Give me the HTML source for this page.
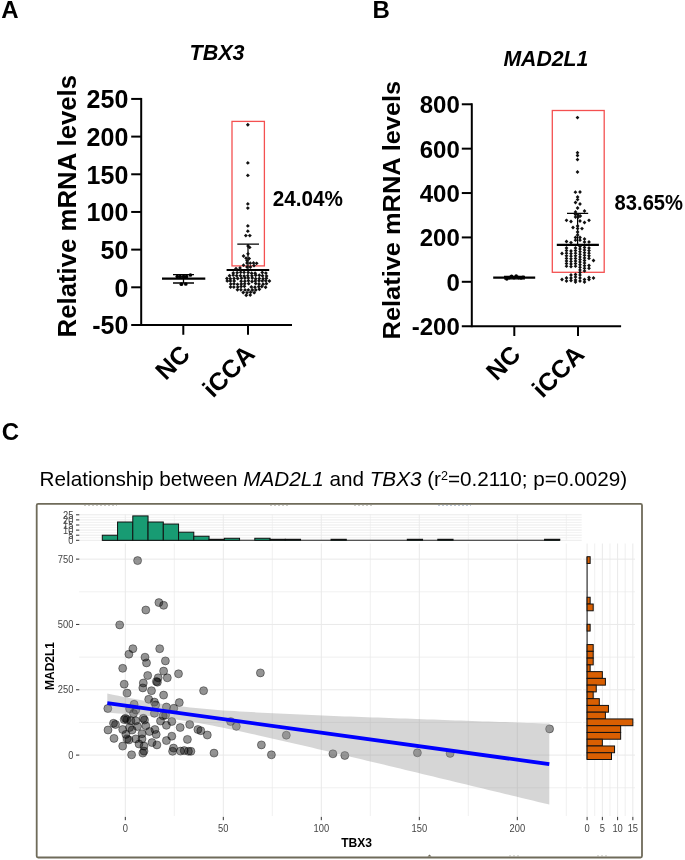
<!DOCTYPE html>
<html><head><meta charset="utf-8"><title>Figure</title>
<style>html,body{margin:0;padding:0;background:#fff}svg{display:block;will-change:transform}</style></head>
<body>
<svg width="685" height="860" viewBox="0 0 685 860">
<rect width="685" height="860" fill="#fff"/>
<text x="1.2" y="18.3" font-family="Liberation Sans, sans-serif" font-weight="bold" font-size="24">A</text>
<text x="189.6" y="60.3" font-family="Liberation Sans, sans-serif" font-weight="bold" font-style="italic" font-size="22" textLength="55" lengthAdjust="spacingAndGlyphs">TBX3</text>
<text transform="translate(76.3,337.4) rotate(-90)" font-family="Liberation Sans, sans-serif" font-weight="bold" font-size="25.5" textLength="262.5" lengthAdjust="spacingAndGlyphs">Relative mRNA levels</text>
<g stroke="#000" stroke-width="2" fill="none">
<path d="M141.2 97.93V325.98"/>
<path d="M131.2 324.98H292"/>
<path d="M131.2 287.30H141.2"/>
<path d="M131.2 249.62H141.2"/>
<path d="M131.2 211.95H141.2"/>
<path d="M131.2 174.28H141.2"/>
<path d="M131.2 136.60H141.2"/>
<path d="M131.2 98.93H141.2"/>
<path d="M183.3 324.98V334.78"/>
<path d="M248 324.98V334.78"/>
</g>
<text x="128.3" y="334.48" text-anchor="end" font-family="Liberation Sans, sans-serif" font-weight="bold" font-size="25">-50</text>
<text x="128.3" y="296.80" text-anchor="end" font-family="Liberation Sans, sans-serif" font-weight="bold" font-size="25">0</text>
<text x="128.3" y="259.12" text-anchor="end" font-family="Liberation Sans, sans-serif" font-weight="bold" font-size="25">50</text>
<text x="128.3" y="221.45" text-anchor="end" font-family="Liberation Sans, sans-serif" font-weight="bold" font-size="25">100</text>
<text x="128.3" y="183.78" text-anchor="end" font-family="Liberation Sans, sans-serif" font-weight="bold" font-size="25">150</text>
<text x="128.3" y="146.10" text-anchor="end" font-family="Liberation Sans, sans-serif" font-weight="bold" font-size="25">200</text>
<text x="128.3" y="108.43" text-anchor="end" font-family="Liberation Sans, sans-serif" font-weight="bold" font-size="25">250</text>
<text transform="translate(191.4,355.8) rotate(-45)" text-anchor="end" font-family="Liberation Sans, sans-serif" font-weight="bold" font-size="25">NC</text>
<text transform="translate(256.3,355.6) rotate(-45)" text-anchor="end" font-family="Liberation Sans, sans-serif" font-weight="bold" font-size="25">iCCA</text>
<text x="272.7" y="206" font-family="Liberation Sans, sans-serif" font-weight="bold" font-size="21.7" textLength="70.2" lengthAdjust="spacingAndGlyphs">24.04%</text>
<text x="372.6" y="18.3" font-family="Liberation Sans, sans-serif" font-weight="bold" font-size="24">B</text>
<text x="503.4" y="65.89999999999999" font-family="Liberation Sans, sans-serif" font-weight="bold" font-style="italic" font-size="21.2" textLength="85" lengthAdjust="spacingAndGlyphs">MAD2L1</text>
<text transform="translate(400.3,339.4) rotate(-90)" font-family="Liberation Sans, sans-serif" font-weight="bold" font-size="24.6" textLength="258.6" lengthAdjust="spacingAndGlyphs">Relative mRNA levels</text>
<g stroke="#000" stroke-width="2" fill="none">
<path d="M471.8 103.28V327.18"/>
<path d="M461.8 326.18H621.1"/>
<path d="M461.8 281.80H471.8"/>
<path d="M461.8 237.42H471.8"/>
<path d="M461.8 193.04H471.8"/>
<path d="M461.8 148.66H471.8"/>
<path d="M461.8 104.28H471.8"/>
<path d="M514.3000000000001 326.18V335.98"/>
<path d="M578.0 326.18V335.98"/>
</g>
<text x="459.8" y="335.18" text-anchor="end" font-family="Liberation Sans, sans-serif" font-weight="bold" font-size="24">-200</text>
<text x="459.8" y="290.80" text-anchor="end" font-family="Liberation Sans, sans-serif" font-weight="bold" font-size="24">0</text>
<text x="459.8" y="246.42" text-anchor="end" font-family="Liberation Sans, sans-serif" font-weight="bold" font-size="24">200</text>
<text x="459.8" y="202.04" text-anchor="end" font-family="Liberation Sans, sans-serif" font-weight="bold" font-size="24">400</text>
<text x="459.8" y="157.66" text-anchor="end" font-family="Liberation Sans, sans-serif" font-weight="bold" font-size="24">600</text>
<text x="459.8" y="113.28" text-anchor="end" font-family="Liberation Sans, sans-serif" font-weight="bold" font-size="24">800</text>
<text transform="translate(522.0,356.1) rotate(-45)" text-anchor="end" font-family="Liberation Sans, sans-serif" font-weight="bold" font-size="25">NC</text>
<text transform="translate(585.7,355.9) rotate(-45)" text-anchor="end" font-family="Liberation Sans, sans-serif" font-weight="bold" font-size="25">iCCA</text>
<text x="614.6" y="209.9" font-family="Liberation Sans, sans-serif" font-weight="bold" font-size="21.7" textLength="68.4" lengthAdjust="spacingAndGlyphs">83.65%</text>
<rect x="232" y="121.4" width="32.4" height="144.5" fill="none" stroke="#f45050" stroke-width="1.3"/>
<g stroke="#000" fill="none"><path d="M162 278.6H205.3" stroke-width="2.2"/><path d="M173 274.6H194M173 283H194M183.5 274.6V283" stroke-width="1.3"/></g>
<circle cx="177.3" cy="276.5" r="1.85" fill="#000"/>
<circle cx="180.2" cy="276.7" r="1.85" fill="#000"/>
<circle cx="183.6" cy="276.5" r="1.85" fill="#000"/>
<circle cx="186.5" cy="276.6" r="1.85" fill="#000"/>
<circle cx="190.4" cy="275" r="1.85" fill="#000"/>
<circle cx="181.4" cy="284.2" r="1.85" fill="#000"/>
<circle cx="185.8" cy="284" r="1.85" fill="#000"/>
<g stroke="#000" fill="none"><path d="M226.6 270H269.2" stroke-width="2.1"/><path d="M237.3 244.2H259M248 244.2V270" stroke-width="1.25"/></g>
<path d="M247.8 122.8L249.8 124.7L247.8 126.7L245.9 124.7Z" fill="#111"/>
<path d="M247.8 161.0L249.8 162.9L247.8 164.8L245.9 162.9Z" fill="#111"/>
<path d="M247.8 173.5L249.8 175.4L247.8 177.3L245.9 175.4Z" fill="#111"/>
<path d="M247.8 202.0L249.8 203.9L247.8 205.8L245.9 203.9Z" fill="#111"/>
<path d="M247.8 206.2L249.8 208.1L247.8 210.0L245.9 208.1Z" fill="#111"/>
<path d="M247.8 224.0L249.8 225.9L247.8 227.8L245.9 225.9Z" fill="#111"/>
<path d="M247.8 229.2L249.8 231.2L247.8 233.1L245.9 231.2Z" fill="#111"/>
<path d="M245.8 233.7L247.8 235.6L245.8 237.5L243.9 235.6Z" fill="#111"/>
<path d="M249.8 233.7L251.8 235.6L249.8 237.5L247.9 235.6Z" fill="#111"/>
<path d="M248.0 244.1L249.9 246.0L248.0 247.9L246.1 246.0Z" fill="#111"/>
<path d="M249.7 245.5L251.6 247.4L249.7 249.3L247.8 247.4Z" fill="#111"/>
<path d="M248.0 251.9L249.9 253.8L248.0 255.8L246.1 253.8Z" fill="#111"/>
<path d="M243.5 254.1L245.4 256.0L243.5 257.9L241.6 256.0Z" fill="#111"/>
<path d="M246.0 256.2L247.9 258.2L246.0 260.1L244.1 258.2Z" fill="#111"/>
<path d="M249.2 256.7L251.1 258.6L249.2 260.6L247.2 258.6Z" fill="#111"/>
<path d="M247.0 258.7L248.9 260.6L247.0 262.6L245.1 260.6Z" fill="#111"/>
<path d="M247.0 261.1L248.9 263.0L247.0 264.9L245.1 263.0Z" fill="#111"/>
<path d="M250.3 261.2L252.2 263.2L250.3 265.1L248.4 263.2Z" fill="#111"/>
<path d="M253.5 261.1L255.4 263.0L253.5 264.9L251.6 263.0Z" fill="#111"/>
<path d="M256.6 261.4L258.6 263.3L256.6 265.2L254.7 263.3Z" fill="#111"/>
<path d="M243.5 263.2L245.4 265.2L243.5 267.1L241.6 265.2Z" fill="#111"/>
<path d="M247.0 265.1L248.9 267.0L247.0 268.9L245.1 267.0Z" fill="#111"/>
<path d="M250.4 265.1L252.3 267.0L250.4 268.9L248.5 267.0Z" fill="#111"/>
<path d="M254.0 263.7L255.9 265.6L254.0 267.6L252.1 265.6Z" fill="#111"/>
<path d="M240.0 266.1L241.9 268.0L240.0 269.9L238.1 268.0Z" fill="#111"/>
<path d="M236.0 266.7L237.9 268.6L236.0 270.6L234.1 268.6Z" fill="#111"/>
<path d="M233.3 271.0L235.2 273.0L233.3 274.9L231.3 273.0Z" fill="#111"/>
<path d="M237.1 270.7L239.1 272.7L237.1 274.6L235.2 272.7Z" fill="#111"/>
<path d="M240.7 270.4L242.7 272.3L240.7 274.3L238.8 272.3Z" fill="#111"/>
<path d="M244.1 270.4L246.0 272.4L244.1 274.3L242.1 272.4Z" fill="#111"/>
<path d="M248.1 270.5L250.1 272.4L248.1 274.4L246.2 272.4Z" fill="#111"/>
<path d="M251.6 271.3L253.6 273.2L251.6 275.2L249.7 273.2Z" fill="#111"/>
<path d="M255.1 271.3L257.1 273.3L255.1 275.2L253.2 273.3Z" fill="#111"/>
<path d="M262.3 270.5L264.2 272.4L262.3 274.4L260.3 272.4Z" fill="#111"/>
<path d="M265.9 271.2L267.8 273.1L265.9 275.1L263.9 273.1Z" fill="#111"/>
<path d="M229.5 273.8L231.5 275.7L229.5 277.7L227.6 275.7Z" fill="#111"/>
<path d="M233.2 273.2L235.2 275.2L233.2 277.1L231.3 275.2Z" fill="#111"/>
<path d="M236.7 273.8L238.7 275.8L236.7 277.7L234.8 275.8Z" fill="#111"/>
<path d="M240.5 273.7L242.4 275.7L240.5 277.6L238.5 275.7Z" fill="#111"/>
<path d="M244.2 273.9L246.1 275.9L244.2 277.8L242.2 275.9Z" fill="#111"/>
<path d="M247.8 273.7L249.8 275.7L247.8 277.6L245.9 275.7Z" fill="#111"/>
<path d="M251.9 273.9L253.9 275.8L251.9 277.8L250.0 275.8Z" fill="#111"/>
<path d="M255.7 273.3L257.6 275.2L255.7 277.2L253.7 275.2Z" fill="#111"/>
<path d="M259.3 273.3L261.2 275.3L259.3 277.2L257.3 275.3Z" fill="#111"/>
<path d="M262.5 273.8L264.5 275.8L262.5 277.7L260.6 275.8Z" fill="#111"/>
<path d="M266.5 274.0L268.5 276.0L266.5 277.9L264.6 276.0Z" fill="#111"/>
<path d="M226.9 276.5L228.9 278.5L226.9 280.4L225.0 278.5Z" fill="#111"/>
<path d="M230.4 276.8L232.3 278.7L230.4 280.7L228.4 278.7Z" fill="#111"/>
<path d="M234.0 276.6L236.0 278.6L234.0 280.5L232.1 278.6Z" fill="#111"/>
<path d="M237.7 276.6L239.7 278.5L237.7 280.5L235.8 278.5Z" fill="#111"/>
<path d="M241.4 276.2L243.4 278.2L241.4 280.1L239.5 278.2Z" fill="#111"/>
<path d="M244.9 276.0L246.9 277.9L244.9 279.9L243.0 277.9Z" fill="#111"/>
<path d="M248.3 276.1L250.2 278.0L248.3 280.0L246.3 278.0Z" fill="#111"/>
<path d="M252.2 276.1L254.2 278.0L252.2 280.0L250.3 278.0Z" fill="#111"/>
<path d="M255.6 276.8L257.6 278.8L255.6 280.7L253.7 278.8Z" fill="#111"/>
<path d="M259.3 276.5L261.2 278.4L259.3 280.4L257.3 278.4Z" fill="#111"/>
<path d="M263.1 276.8L265.0 278.8L263.1 280.7L261.1 278.8Z" fill="#111"/>
<path d="M266.4 276.3L268.4 278.3L266.4 280.2L264.5 278.3Z" fill="#111"/>
<path d="M227.3 278.9L229.2 280.9L227.3 282.8L225.3 280.9Z" fill="#111"/>
<path d="M230.4 279.0L232.3 280.9L230.4 282.9L228.4 280.9Z" fill="#111"/>
<path d="M234.2 279.0L236.1 281.0L234.2 282.9L232.2 281.0Z" fill="#111"/>
<path d="M241.1 279.3L243.1 281.3L241.1 283.2L239.2 281.3Z" fill="#111"/>
<path d="M244.9 279.3L246.8 281.2L244.9 283.2L242.9 281.2Z" fill="#111"/>
<path d="M248.4 278.8L250.4 280.8L248.4 282.7L246.5 280.8Z" fill="#111"/>
<path d="M252.0 279.6L254.0 281.6L252.0 283.5L250.1 281.6Z" fill="#111"/>
<path d="M255.3 279.1L257.3 281.1L255.3 283.0L253.4 281.1Z" fill="#111"/>
<path d="M259.0 278.8L261.0 280.8L259.0 282.7L257.1 280.8Z" fill="#111"/>
<path d="M262.3 278.9L264.3 280.9L262.3 282.8L260.4 280.9Z" fill="#111"/>
<path d="M265.8 278.8L267.7 280.7L265.8 282.7L263.8 280.7Z" fill="#111"/>
<path d="M269.4 279.1L271.3 281.1L269.4 283.0L267.4 281.1Z" fill="#111"/>
<path d="M230.7 282.2L232.7 284.1L230.7 286.1L228.8 284.1Z" fill="#111"/>
<path d="M234.0 281.9L235.9 283.8L234.0 285.8L232.0 283.8Z" fill="#111"/>
<path d="M237.5 282.4L239.4 284.3L237.5 286.3L235.5 284.3Z" fill="#111"/>
<path d="M241.3 282.0L243.2 284.0L241.3 285.9L239.3 284.0Z" fill="#111"/>
<path d="M244.7 281.9L246.6 283.8L244.7 285.8L242.7 283.8Z" fill="#111"/>
<path d="M248.7 281.7L250.6 283.7L248.7 285.6L246.7 283.7Z" fill="#111"/>
<path d="M255.7 281.7L257.7 283.6L255.7 285.6L253.8 283.6Z" fill="#111"/>
<path d="M259.0 282.1L261.0 284.0L259.0 286.0L257.1 284.0Z" fill="#111"/>
<path d="M263.1 282.2L265.1 284.2L263.1 286.1L261.2 284.2Z" fill="#111"/>
<path d="M266.4 281.7L268.4 283.7L266.4 285.6L264.5 283.7Z" fill="#111"/>
<path d="M230.5 285.1L232.5 287.1L230.5 289.0L228.6 287.1Z" fill="#111"/>
<path d="M233.8 285.2L235.8 287.1L233.8 289.1L231.9 287.1Z" fill="#111"/>
<path d="M237.7 285.2L239.7 287.1L237.7 289.1L235.8 287.1Z" fill="#111"/>
<path d="M241.1 284.6L243.1 286.5L241.1 288.5L239.2 286.5Z" fill="#111"/>
<path d="M244.4 284.4L246.4 286.3L244.4 288.3L242.5 286.3Z" fill="#111"/>
<path d="M251.4 285.0L253.3 287.0L251.4 288.9L249.4 287.0Z" fill="#111"/>
<path d="M255.0 285.3L256.9 287.2L255.0 289.2L253.0 287.2Z" fill="#111"/>
<path d="M258.8 284.7L260.7 286.7L258.8 288.6L256.8 286.7Z" fill="#111"/>
<path d="M261.8 284.5L263.8 286.5L261.8 288.4L259.9 286.5Z" fill="#111"/>
<path d="M265.6 285.3L267.5 287.2L265.6 289.2L263.6 287.2Z" fill="#111"/>
<path d="M237.5 287.8L239.4 289.8L237.5 291.7L235.5 289.8Z" fill="#111"/>
<path d="M240.9 287.8L242.9 289.8L240.9 291.7L239.0 289.8Z" fill="#111"/>
<path d="M245.0 287.9L247.0 289.9L245.0 291.8L243.1 289.9Z" fill="#111"/>
<path d="M248.3 287.9L250.3 289.9L248.3 291.8L246.4 289.9Z" fill="#111"/>
<path d="M252.3 288.1L254.3 290.1L252.3 292.0L250.4 290.1Z" fill="#111"/>
<path d="M255.8 288.1L257.7 290.0L255.8 292.0L253.8 290.0Z" fill="#111"/>
<path d="M259.3 287.3L261.3 289.2L259.3 291.2L257.4 289.2Z" fill="#111"/>
<path d="M243.2 290.6L245.2 292.5L243.2 294.5L241.3 292.5Z" fill="#111"/>
<path d="M247.0 290.7L249.0 292.7L247.0 294.6L245.1 292.7Z" fill="#111"/>
<path d="M250.6 290.3L252.5 292.2L250.6 294.2L248.6 292.2Z" fill="#111"/>
<path d="M254.2 290.7L256.2 292.7L254.2 294.6L252.3 292.7Z" fill="#111"/>
<path d="M246.2 293.3L248.2 295.2L246.2 297.2L244.3 295.2Z" fill="#111"/>
<path d="M250.2 293.2L252.2 295.1L250.2 297.1L248.3 295.1Z" fill="#111"/>
<rect x="552.3" y="110.5" width="51.9" height="161.8" fill="none" stroke="#f45050" stroke-width="1.3"/>
<g stroke="#000" fill="none"><path d="M493.2 277.6H535.2" stroke-width="2.2"/><path d="M504 276.4H525M504 278.9H525" stroke-width="1.2"/></g>
<circle cx="506.8" cy="279" r="1.8" fill="#000"/>
<circle cx="509.5" cy="277.6" r="1.8" fill="#000"/>
<circle cx="511.6" cy="276.2" r="1.8" fill="#000"/>
<circle cx="514" cy="277.8" r="1.8" fill="#000"/>
<circle cx="516.2" cy="276" r="1.8" fill="#000"/>
<circle cx="518.6" cy="277.6" r="1.8" fill="#000"/>
<circle cx="521" cy="278" r="1.8" fill="#000"/>
<circle cx="523" cy="277.4" r="1.8" fill="#000"/>
<g stroke="#000" fill="none"><path d="M556.8 244.9H598.9" stroke-width="2.1"/><path d="M567 213.3H588.2M577.6 213.3V245" stroke-width="1.25"/></g>
<path d="M577.5 115.7L579.4 117.6L577.5 119.5L575.6 117.6Z" fill="#111"/>
<path d="M577.5 150.8L579.4 152.7L577.5 154.6L575.6 152.7Z" fill="#111"/>
<path d="M577.5 153.6L579.4 155.5L577.5 157.4L575.6 155.5Z" fill="#111"/>
<path d="M577.5 157.7L579.4 159.6L577.5 161.5L575.6 159.6Z" fill="#111"/>
<path d="M577.5 170.1L579.4 172.0L577.5 173.9L575.6 172.0Z" fill="#111"/>
<path d="M575.4 190.3L577.3 192.2L575.4 194.1L573.5 192.2Z" fill="#111"/>
<path d="M580.0 190.1L581.9 192.0L580.0 193.9L578.1 192.0Z" fill="#111"/>
<path d="M577.6 195.1L579.5 197.0L577.6 198.9L575.7 197.0Z" fill="#111"/>
<path d="M577.6 197.7L579.5 199.6L577.6 201.5L575.7 199.6Z" fill="#111"/>
<path d="M575.5 200.6L577.4 202.5L575.5 204.4L573.6 202.5Z" fill="#111"/>
<path d="M580.0 202.1L581.9 204.0L580.0 205.9L578.1 204.0Z" fill="#111"/>
<path d="M577.6 206.1L579.5 208.0L577.6 209.9L575.7 208.0Z" fill="#111"/>
<path d="M584.5 209.1L586.4 211.0L584.5 212.9L582.6 211.0Z" fill="#111"/>
<path d="M575.5 210.1L577.4 212.0L575.5 213.9L573.6 212.0Z" fill="#111"/>
<path d="M575.5 212.6L577.4 214.5L575.5 216.4L573.6 214.5Z" fill="#111"/>
<path d="M578.0 212.9L579.9 214.8L578.0 216.7L576.1 214.8Z" fill="#111"/>
<path d="M575.5 215.1L577.4 217.0L575.5 218.9L573.6 217.0Z" fill="#111"/>
<path d="M578.2 215.3L580.1 217.2L578.2 219.1L576.3 217.2Z" fill="#111"/>
<path d="M580.3 214.1L582.2 216.0L580.3 217.9L578.4 216.0Z" fill="#111"/>
<path d="M566.5 218.4L568.4 220.3L566.5 222.2L564.6 220.3Z" fill="#111"/>
<path d="M571.0 219.6L572.9 221.5L571.0 223.4L569.1 221.5Z" fill="#111"/>
<path d="M580.0 219.1L581.9 221.0L580.0 222.9L578.1 221.0Z" fill="#111"/>
<path d="M584.5 220.6L586.4 222.5L584.5 224.4L582.6 222.5Z" fill="#111"/>
<path d="M589.0 218.4L590.9 220.3L589.0 222.2L587.1 220.3Z" fill="#111"/>
<path d="M573.0 225.6L574.9 227.5L573.0 229.4L571.1 227.5Z" fill="#111"/>
<path d="M577.6 224.1L579.5 226.0L577.6 227.9L575.7 226.0Z" fill="#111"/>
<path d="M577.6 226.7L579.5 228.6L577.6 230.5L575.7 228.6Z" fill="#111"/>
<path d="M582.0 226.7L583.9 228.6L582.0 230.5L580.1 228.6Z" fill="#111"/>
<path d="M577.6 230.1L579.5 232.0L577.6 233.9L575.7 232.0Z" fill="#111"/>
<path d="M577.6 233.1L579.5 235.0L577.6 236.9L575.7 235.0Z" fill="#111"/>
<path d="M575.5 235.6L577.4 237.5L575.5 239.4L573.6 237.5Z" fill="#111"/>
<path d="M580.0 235.6L581.9 237.5L580.0 239.4L578.1 237.5Z" fill="#111"/>
<path d="M575.5 238.3L577.4 240.2L575.5 242.1L573.6 240.2Z" fill="#111"/>
<path d="M580.0 238.3L581.9 240.2L580.0 242.1L578.1 240.2Z" fill="#111"/>
<path d="M584.5 237.1L586.4 239.0L584.5 240.9L582.6 239.0Z" fill="#111"/>
<path d="M584.5 240.1L586.4 242.0L584.5 243.9L582.6 242.0Z" fill="#111"/>
<path d="M566.5 239.6L568.4 241.5L566.5 243.4L564.6 241.5Z" fill="#111"/>
<path d="M571.0 240.7L572.9 242.6L571.0 244.5L569.1 242.6Z" fill="#111"/>
<path d="M589.0 240.1L590.9 242.0L589.0 243.9L587.1 242.0Z" fill="#111"/>
<path d="M562.0 251.6L563.9 253.5L562.0 255.4L560.1 253.5Z" fill="#111"/>
<path d="M593.5 258.6L595.4 260.5L593.5 262.4L591.6 260.5Z" fill="#111"/>
<path d="M566.5 246.1L568.4 248.0L566.5 249.9L564.6 248.0Z" fill="#111"/>
<path d="M566.5 248.7L568.4 250.6L566.5 252.5L564.6 250.6Z" fill="#111"/>
<path d="M566.5 251.3L568.4 253.2L566.5 255.1L564.6 253.2Z" fill="#111"/>
<path d="M566.5 253.9L568.4 255.8L566.5 257.7L564.6 255.8Z" fill="#111"/>
<path d="M566.5 256.5L568.4 258.4L566.5 260.3L564.6 258.4Z" fill="#111"/>
<path d="M566.5 259.1L568.4 261.0L566.5 262.9L564.6 261.0Z" fill="#111"/>
<path d="M566.5 261.7L568.4 263.6L566.5 265.5L564.6 263.6Z" fill="#111"/>
<path d="M566.5 264.3L568.4 266.2L566.5 268.1L564.6 266.2Z" fill="#111"/>
<path d="M571.0 249.1L572.9 251.0L571.0 252.9L569.1 251.0Z" fill="#111"/>
<path d="M571.0 251.7L572.9 253.6L571.0 255.5L569.1 253.6Z" fill="#111"/>
<path d="M571.0 254.3L572.9 256.2L571.0 258.1L569.1 256.2Z" fill="#111"/>
<path d="M571.0 256.9L572.9 258.8L571.0 260.7L569.1 258.8Z" fill="#111"/>
<path d="M571.0 259.5L572.9 261.4L571.0 263.3L569.1 261.4Z" fill="#111"/>
<path d="M571.0 262.1L572.9 264.0L571.0 265.9L569.1 264.0Z" fill="#111"/>
<path d="M571.0 264.7L572.9 266.6L571.0 268.5L569.1 266.6Z" fill="#111"/>
<path d="M575.5 246.1L577.4 248.0L575.5 249.9L573.6 248.0Z" fill="#111"/>
<path d="M575.5 248.7L577.4 250.6L575.5 252.5L573.6 250.6Z" fill="#111"/>
<path d="M575.5 251.3L577.4 253.2L575.5 255.1L573.6 253.2Z" fill="#111"/>
<path d="M575.5 253.9L577.4 255.8L575.5 257.7L573.6 255.8Z" fill="#111"/>
<path d="M575.5 256.5L577.4 258.4L575.5 260.3L573.6 258.4Z" fill="#111"/>
<path d="M575.5 259.1L577.4 261.0L575.5 262.9L573.6 261.0Z" fill="#111"/>
<path d="M575.5 261.7L577.4 263.6L575.5 265.5L573.6 263.6Z" fill="#111"/>
<path d="M575.5 264.3L577.4 266.2L575.5 268.1L573.6 266.2Z" fill="#111"/>
<path d="M580.0 244.6L581.9 246.5L580.0 248.4L578.1 246.5Z" fill="#111"/>
<path d="M580.0 247.2L581.9 249.1L580.0 251.0L578.1 249.1Z" fill="#111"/>
<path d="M580.0 249.8L581.9 251.7L580.0 253.6L578.1 251.7Z" fill="#111"/>
<path d="M580.0 252.4L581.9 254.3L580.0 256.2L578.1 254.3Z" fill="#111"/>
<path d="M580.0 255.0L581.9 256.9L580.0 258.8L578.1 256.9Z" fill="#111"/>
<path d="M580.0 257.6L581.9 259.5L580.0 261.4L578.1 259.5Z" fill="#111"/>
<path d="M580.0 260.2L581.9 262.1L580.0 264.0L578.1 262.1Z" fill="#111"/>
<path d="M580.0 262.8L581.9 264.7L580.0 266.6L578.1 264.7Z" fill="#111"/>
<path d="M580.0 265.4L581.9 267.3L580.0 269.2L578.1 267.3Z" fill="#111"/>
<path d="M580.0 268.0L581.9 269.9L580.0 271.8L578.1 269.9Z" fill="#111"/>
<path d="M580.0 270.6L581.9 272.5L580.0 274.4L578.1 272.5Z" fill="#111"/>
<path d="M580.0 273.2L581.9 275.1L580.0 277.0L578.1 275.1Z" fill="#111"/>
<path d="M584.5 245.6L586.4 247.5L584.5 249.4L582.6 247.5Z" fill="#111"/>
<path d="M584.5 248.2L586.4 250.1L584.5 252.0L582.6 250.1Z" fill="#111"/>
<path d="M584.5 250.8L586.4 252.7L584.5 254.6L582.6 252.7Z" fill="#111"/>
<path d="M584.5 253.4L586.4 255.3L584.5 257.2L582.6 255.3Z" fill="#111"/>
<path d="M584.5 256.0L586.4 257.9L584.5 259.8L582.6 257.9Z" fill="#111"/>
<path d="M584.5 258.6L586.4 260.5L584.5 262.4L582.6 260.5Z" fill="#111"/>
<path d="M584.5 261.2L586.4 263.1L584.5 265.0L582.6 263.1Z" fill="#111"/>
<path d="M584.5 263.8L586.4 265.7L584.5 267.6L582.6 265.7Z" fill="#111"/>
<path d="M584.5 266.4L586.4 268.3L584.5 270.2L582.6 268.3Z" fill="#111"/>
<path d="M584.5 269.0L586.4 270.9L584.5 272.8L582.6 270.9Z" fill="#111"/>
<path d="M589.0 246.1L590.9 248.0L589.0 249.9L587.1 248.0Z" fill="#111"/>
<path d="M589.0 248.7L590.9 250.6L589.0 252.5L587.1 250.6Z" fill="#111"/>
<path d="M589.0 251.3L590.9 253.2L589.0 255.1L587.1 253.2Z" fill="#111"/>
<path d="M589.0 253.9L590.9 255.8L589.0 257.7L587.1 255.8Z" fill="#111"/>
<path d="M589.0 256.5L590.9 258.4L589.0 260.3L587.1 258.4Z" fill="#111"/>
<path d="M589.0 263.6L590.9 265.5L589.0 267.4L587.1 265.5Z" fill="#111"/>
<path d="M589.0 266.4L590.9 268.3L589.0 270.2L587.1 268.3Z" fill="#111"/>
<path d="M571.0 273.1L572.9 275.0L571.0 276.9L569.1 275.0Z" fill="#111"/>
<path d="M575.5 272.6L577.4 274.5L575.5 276.4L573.6 274.5Z" fill="#111"/>
<path d="M575.5 275.1L577.4 277.0L575.5 278.9L573.6 277.0Z" fill="#111"/>
<path d="M580.0 276.1L581.9 278.0L580.0 279.9L578.1 278.0Z" fill="#111"/>
<path d="M562.0 277.6L563.9 279.5L562.0 281.4L560.1 279.5Z" fill="#111"/>
<path d="M566.5 276.1L568.4 278.0L566.5 279.9L564.6 278.0Z" fill="#111"/>
<path d="M566.5 279.1L568.4 281.0L566.5 282.9L564.6 281.0Z" fill="#111"/>
<path d="M571.0 276.1L572.9 278.0L571.0 279.9L569.1 278.0Z" fill="#111"/>
<path d="M571.0 278.6L572.9 280.5L571.0 282.4L569.1 280.5Z" fill="#111"/>
<path d="M575.5 278.1L577.4 280.0L575.5 281.9L573.6 280.0Z" fill="#111"/>
<path d="M575.5 280.1L577.4 282.0L575.5 283.9L573.6 282.0Z" fill="#111"/>
<path d="M580.0 279.1L581.9 281.0L580.0 282.9L578.1 281.0Z" fill="#111"/>
<path d="M584.5 277.6L586.4 279.5L584.5 281.4L582.6 279.5Z" fill="#111"/>
<path d="M584.5 280.1L586.4 282.0L584.5 283.9L582.6 282.0Z" fill="#111"/>
<path d="M589.0 277.6L590.9 279.5L589.0 281.4L587.1 279.5Z" fill="#111"/>
<path d="M589.0 275.6L590.9 277.5L589.0 279.4L587.1 277.5Z" fill="#111"/>
<path d="M593.5 276.1L595.4 278.0L593.5 279.9L591.6 278.0Z" fill="#111"/>
<text x="1.8" y="440.2" font-family="Liberation Sans, sans-serif" font-weight="bold" font-size="24">C</text>
<text x="39.6" y="485.7" font-family="Liberation Sans, sans-serif" font-size="20.7" textLength="587.5" lengthAdjust="spacing">Relationship between <tspan font-style="italic">MAD2L1</tspan> and <tspan font-style="italic">TBX3</tspan> (r<tspan font-size="12.6" dy="-6.2">2</tspan><tspan dy="6.2">=0.2110; p=0.0029)</tspan></text>
<rect x="36.7" y="503.8" width="605.3" height="353.7" rx="1.5" fill="#fff" stroke="#6f6b5a" stroke-width="1.8"/>
<g stroke="#9a988c" stroke-width="1" stroke-dasharray="2 2" opacity="0.55"><path d="M84 505.4H117M270 505.4H290M354 505.4H374"/><path d="M438 505.4H471" stroke="#7a8fa8"/><path d="M509 855.9H520M597 855.9H607"/></g><path d="M427.5 856.6L429.5 854.6L431.5 856.6Z" fill="#6f6b5a"/>
<g stroke="#e9e9e9" stroke-width="0.9">
<path d="M79.2 540.30H581.7" />
<path d="M79.2 537.75H581.7" stroke-width="0.6"/>
<path d="M79.2 535.20H581.7" />
<path d="M79.2 532.65H581.7" stroke-width="0.6"/>
<path d="M79.2 530.10H581.7" />
<path d="M79.2 527.55H581.7" stroke-width="0.6"/>
<path d="M79.2 525.00H581.7" />
<path d="M79.2 522.45H581.7" stroke-width="0.6"/>
<path d="M79.2 519.90H581.7" />
<path d="M79.2 517.35H581.7" stroke-width="0.6"/>
<path d="M79.2 514.80H581.7" />
<path d="M125.30 514.3V541" stroke-width="0.9"/>
<path d="M174.30 514.3V541" stroke-width="0.6"/>
<path d="M223.30 514.3V541" stroke-width="0.9"/>
<path d="M272.30 514.3V541" stroke-width="0.6"/>
<path d="M321.30 514.3V541" stroke-width="0.9"/>
<path d="M370.30 514.3V541" stroke-width="0.6"/>
<path d="M419.30 514.3V541" stroke-width="0.9"/>
<path d="M468.30 514.3V541" stroke-width="0.6"/>
<path d="M517.30 514.3V541" stroke-width="0.9"/>
<path d="M566.30 514.3V541" stroke-width="0.6"/>
</g>
<g stroke="#e9e9e9" stroke-width="1">
<path d="M79.2 787.76H581.7" stroke-width="0.7"/>
<path d="M79.2 755.10H581.7" stroke-width="1"/>
<path d="M79.2 722.44H581.7" stroke-width="0.7"/>
<path d="M79.2 689.78H581.7" stroke-width="1"/>
<path d="M79.2 657.11H581.7" stroke-width="0.7"/>
<path d="M79.2 624.45H581.7" stroke-width="1"/>
<path d="M79.2 591.79H581.7" stroke-width="0.7"/>
<path d="M79.2 559.12H581.7" stroke-width="1"/>
<path d="M125.30 543.5V816" stroke-width="1"/>
<path d="M174.30 543.5V816" stroke-width="0.7"/>
<path d="M223.30 543.5V816" stroke-width="1"/>
<path d="M272.30 543.5V816" stroke-width="0.7"/>
<path d="M321.30 543.5V816" stroke-width="1"/>
<path d="M370.30 543.5V816" stroke-width="0.7"/>
<path d="M419.30 543.5V816" stroke-width="1"/>
<path d="M468.30 543.5V816" stroke-width="0.7"/>
<path d="M517.30 543.5V816" stroke-width="1"/>
<path d="M566.30 543.5V816" stroke-width="0.7"/>
<path d="M583.2 787.76H635" stroke-width="0.7"/>
<path d="M583.2 755.10H635" stroke-width="1"/>
<path d="M583.2 722.44H635" stroke-width="0.7"/>
<path d="M583.2 689.78H635" stroke-width="1"/>
<path d="M583.2 657.11H635" stroke-width="0.7"/>
<path d="M583.2 624.45H635" stroke-width="1"/>
<path d="M583.2 591.79H635" stroke-width="0.7"/>
<path d="M583.2 559.12H635" stroke-width="1"/>
<path d="M587.10 543.5V816" stroke-width="1"/>
<path d="M594.73 543.5V816" stroke-width="0.7"/>
<path d="M602.35 543.5V816" stroke-width="1"/>
<path d="M609.98 543.5V816" stroke-width="0.7"/>
<path d="M617.60 543.5V816" stroke-width="1"/>
<path d="M625.23 543.5V816" stroke-width="0.7"/>
<path d="M632.85 543.5V816" stroke-width="1"/>
</g>
<path d="M102.3 540.3H559.8" stroke="#222" stroke-width="1.1"/>
<path d="M587.1 556.7V759.5" stroke="#222" stroke-width="1.1"/>
<g fill="#189b73" stroke="#111" stroke-width="1">
<rect x="102.30" y="535.22" width="15.25" height="5.08"/>
<rect x="117.55" y="522.01" width="15.25" height="18.29"/>
<rect x="132.80" y="515.92" width="15.25" height="24.38"/>
<rect x="148.05" y="522.01" width="15.25" height="18.29"/>
<rect x="163.30" y="524.04" width="15.25" height="16.26"/>
<rect x="178.55" y="532.17" width="15.25" height="8.13"/>
<rect x="193.80" y="536.24" width="15.25" height="4.06"/>
<rect x="209.05" y="539.28" width="15.25" height="1.02"/>
<rect x="224.30" y="538.27" width="15.25" height="2.03"/>
<rect x="239.55" y="540.30" width="15.25" height="0.00"/>
<rect x="254.80" y="538.27" width="15.25" height="2.03"/>
<rect x="270.05" y="539.28" width="15.25" height="1.02"/>
<rect x="285.30" y="539.28" width="15.25" height="1.02"/>
<rect x="300.55" y="540.30" width="15.25" height="0.00"/>
<rect x="315.80" y="540.30" width="15.25" height="0.00"/>
<rect x="331.05" y="539.28" width="15.25" height="1.02"/>
<rect x="346.30" y="540.30" width="15.25" height="0.00"/>
<rect x="361.55" y="540.30" width="15.25" height="0.00"/>
<rect x="376.80" y="540.30" width="15.25" height="0.00"/>
<rect x="392.05" y="540.30" width="15.25" height="0.00"/>
<rect x="407.30" y="539.28" width="15.25" height="1.02"/>
<rect x="422.55" y="540.30" width="15.25" height="0.00"/>
<rect x="437.80" y="539.28" width="15.25" height="1.02"/>
<rect x="453.05" y="540.30" width="15.25" height="0.00"/>
<rect x="468.30" y="540.30" width="15.25" height="0.00"/>
<rect x="483.55" y="540.30" width="15.25" height="0.00"/>
<rect x="498.80" y="540.30" width="15.25" height="0.00"/>
<rect x="514.05" y="540.30" width="15.25" height="0.00"/>
<rect x="529.30" y="540.30" width="15.25" height="0.00"/>
<rect x="544.55" y="539.28" width="15.25" height="1.02"/>
</g>
<g fill="#d95f02" stroke="#111" stroke-width="1">
<rect x="587.1" y="556.70" width="3.05" height="6.76"/>
<rect x="587.1" y="563.46" width="0.00" height="6.76"/>
<rect x="587.1" y="570.22" width="0.00" height="6.76"/>
<rect x="587.1" y="576.98" width="0.00" height="6.76"/>
<rect x="587.1" y="583.74" width="0.00" height="6.76"/>
<rect x="587.1" y="590.50" width="0.00" height="6.76"/>
<rect x="587.1" y="597.26" width="3.05" height="6.76"/>
<rect x="587.1" y="604.02" width="6.10" height="6.76"/>
<rect x="587.1" y="610.78" width="0.00" height="6.76"/>
<rect x="587.1" y="617.54" width="0.00" height="6.76"/>
<rect x="587.1" y="624.30" width="3.05" height="6.76"/>
<rect x="587.1" y="631.06" width="0.00" height="6.76"/>
<rect x="587.1" y="637.82" width="0.00" height="6.76"/>
<rect x="587.1" y="644.58" width="6.10" height="6.76"/>
<rect x="587.1" y="651.34" width="6.10" height="6.76"/>
<rect x="587.1" y="658.10" width="6.10" height="6.76"/>
<rect x="587.1" y="664.86" width="3.05" height="6.76"/>
<rect x="587.1" y="671.62" width="15.25" height="6.76"/>
<rect x="587.1" y="678.38" width="18.30" height="6.76"/>
<rect x="587.1" y="685.14" width="9.15" height="6.76"/>
<rect x="587.1" y="691.90" width="6.10" height="6.76"/>
<rect x="587.1" y="698.66" width="12.20" height="6.76"/>
<rect x="587.1" y="705.42" width="21.35" height="6.76"/>
<rect x="587.1" y="712.18" width="18.30" height="6.76"/>
<rect x="587.1" y="718.94" width="45.75" height="6.76"/>
<rect x="587.1" y="725.70" width="33.55" height="6.76"/>
<rect x="587.1" y="732.46" width="33.55" height="6.76"/>
<rect x="587.1" y="739.22" width="15.25" height="6.76"/>
<rect x="587.1" y="745.98" width="27.45" height="6.76"/>
<rect x="587.1" y="752.74" width="24.40" height="6.76"/>
</g>
<g fill="#000" fill-opacity="0.42" stroke="#000" stroke-opacity="0.5" stroke-width="0.8">
<circle cx="137.6" cy="560.6" r="4"/>
<circle cx="158.9" cy="602.6" r="4"/>
<circle cx="163.6" cy="605.3" r="4"/>
<circle cx="145.8" cy="610" r="4"/>
<circle cx="119.7" cy="624.9" r="4"/>
<circle cx="132.9" cy="648.7" r="4"/>
<circle cx="128.9" cy="654.2" r="4"/>
<circle cx="159.7" cy="648.7" r="4"/>
<circle cx="145" cy="657.2" r="4"/>
<circle cx="146.5" cy="662.9" r="4"/>
<circle cx="165.4" cy="660.9" r="4"/>
<circle cx="122.7" cy="668.3" r="4"/>
<circle cx="163.6" cy="671.1" r="4"/>
<circle cx="178.5" cy="673.8" r="4"/>
<circle cx="147.7" cy="675.5" r="4"/>
<circle cx="158.2" cy="677.8" r="4"/>
<circle cx="167.3" cy="677.8" r="4"/>
<circle cx="156.4" cy="681.5" r="4"/>
<circle cx="157.4" cy="682.2" r="4"/>
<circle cx="143.3" cy="683" r="4"/>
<circle cx="124.2" cy="684.2" r="4"/>
<circle cx="142.8" cy="687.9" r="4"/>
<circle cx="151.5" cy="690.7" r="4"/>
<circle cx="203.6" cy="690.7" r="4"/>
<circle cx="127.1" cy="693.1" r="4"/>
<circle cx="163.6" cy="695.1" r="4"/>
<circle cx="148.7" cy="699.3" r="4"/>
<circle cx="154.4" cy="702.1" r="4"/>
<circle cx="179.3" cy="702.6" r="4"/>
<circle cx="134.1" cy="704.3" r="4"/>
<circle cx="155.7" cy="705" r="4"/>
<circle cx="166.4" cy="707" r="4"/>
<circle cx="173.8" cy="708.3" r="4"/>
<circle cx="107.8" cy="708.5" r="4"/>
<circle cx="129.6" cy="708.8" r="4"/>
<circle cx="135.8" cy="710" r="4"/>
<circle cx="154.4" cy="713.3" r="4"/>
<circle cx="163.1" cy="715.8" r="4"/>
<circle cx="165.6" cy="715.1" r="4"/>
<circle cx="125.4" cy="718.3" r="4"/>
<circle cx="124.2" cy="719.6" r="4"/>
<circle cx="127.1" cy="719.6" r="4"/>
<circle cx="143.3" cy="718.3" r="4"/>
<circle cx="144.5" cy="720" r="4"/>
<circle cx="135.8" cy="720.8" r="4"/>
<circle cx="130.9" cy="720.8" r="4"/>
<circle cx="171.8" cy="721.5" r="4"/>
<circle cx="113.5" cy="723.3" r="4"/>
<circle cx="115.5" cy="724.5" r="4"/>
<circle cx="189.7" cy="724.5" r="4"/>
<circle cx="145.8" cy="725.8" r="4"/>
<circle cx="166.4" cy="725.3" r="4"/>
<circle cx="180.2" cy="727.5" r="4"/>
<circle cx="129.6" cy="727.5" r="4"/>
<circle cx="108" cy="730" r="4"/>
<circle cx="122.7" cy="729.5" r="4"/>
<circle cx="132.1" cy="730" r="4"/>
<circle cx="154.9" cy="729.5" r="4"/>
<circle cx="197.9" cy="729.5" r="4"/>
<circle cx="200.8" cy="730.7" r="4"/>
<circle cx="236.3" cy="726.3" r="4"/>
<circle cx="230.6" cy="721.5" r="4"/>
<circle cx="142" cy="733.7" r="4"/>
<circle cx="156.2" cy="734.4" r="4"/>
<circle cx="125.9" cy="734.4" r="4"/>
<circle cx="171.8" cy="736.2" r="4"/>
<circle cx="207.3" cy="735" r="4"/>
<circle cx="114" cy="738.4" r="4"/>
<circle cx="127.1" cy="738.9" r="4"/>
<circle cx="128.9" cy="739.9" r="4"/>
<circle cx="135.8" cy="738.9" r="4"/>
<circle cx="142" cy="738.9" r="4"/>
<circle cx="187.4" cy="739.4" r="4"/>
<circle cx="166.4" cy="740.6" r="4"/>
<circle cx="152" cy="742.6" r="4"/>
<circle cx="156.9" cy="744.9" r="4"/>
<circle cx="122.7" cy="746.1" r="4"/>
<circle cx="144" cy="746.1" r="4"/>
<circle cx="173.5" cy="748.1" r="4"/>
<circle cx="172.6" cy="751.3" r="4"/>
<circle cx="180.5" cy="751.1" r="4"/>
<circle cx="184.2" cy="750.6" r="4"/>
<circle cx="188.4" cy="751.3" r="4"/>
<circle cx="190.9" cy="751.3" r="4"/>
<circle cx="144" cy="751.1" r="4"/>
<circle cx="142.8" cy="753.1" r="4"/>
<circle cx="131.6" cy="754.8" r="4"/>
<circle cx="214" cy="753.1" r="4"/>
<circle cx="260.4" cy="672.9" r="4"/>
<circle cx="286.3" cy="735.2" r="4"/>
<circle cx="261.4" cy="744.9" r="4"/>
<circle cx="271.4" cy="754.8" r="4"/>
<circle cx="332.9" cy="753.8" r="4"/>
<circle cx="344.8" cy="755.5" r="4"/>
<circle cx="417.4" cy="752.8" r="4"/>
<circle cx="450.1" cy="753.4" r="4"/>
<circle cx="549.6" cy="728.9" r="4"/>
<circle cx="137.5" cy="726.5" r="4"/>
<circle cx="149.5" cy="731.5" r="4"/>
<circle cx="139" cy="744" r="4"/>
<circle cx="160.5" cy="721" r="4"/>
<circle cx="133.5" cy="713.5" r="4"/>
</g>
<polygon points="107.3,693.5 112.8,694.7 118.3,695.8 123.9,696.9 129.4,698.0 134.9,699.1 140.4,700.1 146.0,701.1 151.5,702.1 157.0,703.0 162.5,703.9 168.1,704.7 173.6,705.5 179.1,706.2 184.6,706.8 190.2,707.5 195.7,708.0 201.2,708.6 206.8,709.1 212.3,709.5 217.8,710.0 223.3,710.4 228.8,710.8 234.4,711.1 239.9,711.5 245.4,711.8 250.9,712.1 256.5,712.4 262.0,712.7 267.5,713.0 273.0,713.3 278.6,713.6 284.1,713.8 289.6,714.1 295.1,714.3 300.7,714.6 306.2,714.8 311.7,715.0 317.2,715.3 322.8,715.5 328.3,715.7 333.8,715.9 339.3,716.2 344.9,716.4 350.4,716.6 355.9,716.8 361.4,717.0 367.0,717.2 372.5,717.4 378.0,717.6 383.5,717.8 389.1,718.0 394.6,718.2 400.1,718.4 405.6,718.6 411.2,718.8 416.7,719.0 422.2,719.2 427.7,719.4 433.3,719.6 438.8,719.8 444.3,720.0 449.8,720.2 455.4,720.4 460.9,720.6 466.4,720.8 471.9,721.0 477.5,721.2 483.0,721.4 488.5,721.6 494.0,721.8 499.6,721.9 505.1,722.1 510.6,722.3 516.1,722.5 521.7,722.7 527.2,722.9 532.7,723.1 538.2,723.3 543.8,723.5 549.3,723.6 549.3,804.5 543.8,803.2 538.2,801.9 532.7,800.5 527.2,799.2 521.7,797.9 516.1,796.5 510.6,795.2 505.1,793.9 499.6,792.5 494.0,791.2 488.5,789.9 483.0,788.5 477.5,787.2 471.9,785.9 466.4,784.5 460.9,783.2 455.4,781.9 449.8,780.5 444.3,779.2 438.8,777.9 433.3,776.5 427.7,775.2 422.2,773.9 416.7,772.6 411.2,771.2 405.6,769.9 400.1,768.6 394.6,767.3 389.1,765.9 383.5,764.6 378.0,763.3 372.5,762.0 367.0,760.7 361.4,759.3 355.9,758.0 350.4,756.7 344.9,755.4 339.3,754.1 333.8,752.8 328.3,751.5 322.8,750.2 317.2,748.9 311.7,747.6 306.2,746.3 300.7,745.0 295.1,743.7 289.6,742.5 284.1,741.2 278.6,739.9 273.0,738.7 267.5,737.4 262.0,736.2 256.5,734.9 250.9,733.7 245.4,732.5 239.9,731.3 234.4,730.1 228.8,729.0 223.3,727.8 217.8,726.7 212.3,725.6 206.8,724.6 201.2,723.5 195.7,722.6 190.2,721.6 184.6,720.7 179.1,719.9 173.6,719.0 168.1,718.3 162.5,717.6 157.0,716.9 151.5,716.3 146.0,715.7 140.4,715.2 134.9,714.7 129.4,714.3 123.9,713.8 118.3,713.4 112.8,713.1 107.3,712.7" fill="#999" fill-opacity="0.4"/>
<path d="M107.3 703.1L549.3 764.1" stroke="#0000ff" stroke-width="3.9" fill="none"/>
<g stroke="#333" stroke-width="1">
<path d="M76 755.10H79.3"/>
<path d="M76 689.78H79.3"/>
<path d="M76 624.45H79.3"/>
<path d="M76 559.12H79.3"/>
<path d="M76 540.30H79.3"/>
<path d="M76 535.20H79.3"/>
<path d="M76 530.10H79.3"/>
<path d="M76 525.00H79.3"/>
<path d="M76 519.90H79.3"/>
<path d="M76 514.80H79.3"/>
<path d="M125.30 816.8V820.2"/>
<path d="M223.30 816.8V820.2"/>
<path d="M321.30 816.8V820.2"/>
<path d="M419.30 816.8V820.2"/>
<path d="M517.30 816.8V820.2"/>
<path d="M587.10 816.8V820.2"/>
<path d="M602.35 816.8V820.2"/>
<path d="M617.60 816.8V820.2"/>
<path d="M632.85 816.8V820.2"/>
</g>
<g font-family="Liberation Sans, sans-serif" font-size="10.3" fill="#444" lengthAdjust="spacingAndGlyphs">
<text x="73.4" y="758.80" text-anchor="end" textLength="5.2" lengthAdjust="spacingAndGlyphs">0</text>
<text x="73.4" y="693.48" text-anchor="end" textLength="15.6" lengthAdjust="spacingAndGlyphs">250</text>
<text x="73.4" y="628.15" text-anchor="end" textLength="15.6" lengthAdjust="spacingAndGlyphs">500</text>
<text x="73.4" y="562.83" text-anchor="end" textLength="15.6" lengthAdjust="spacingAndGlyphs">750</text>
<text x="73.4" y="544.00" text-anchor="end" textLength="5.2" lengthAdjust="spacingAndGlyphs">0</text>
<text x="73.4" y="538.90" text-anchor="end" textLength="5.2" lengthAdjust="spacingAndGlyphs">5</text>
<text x="73.4" y="533.80" text-anchor="end" textLength="10.4" lengthAdjust="spacingAndGlyphs">10</text>
<text x="73.4" y="528.70" text-anchor="end" textLength="10.4" lengthAdjust="spacingAndGlyphs">15</text>
<text x="73.4" y="523.60" text-anchor="end" textLength="10.4" lengthAdjust="spacingAndGlyphs">20</text>
<text x="73.4" y="518.50" text-anchor="end" textLength="10.4" lengthAdjust="spacingAndGlyphs">25</text>
<text x="125.30" y="831.9" text-anchor="middle" textLength="5.2" lengthAdjust="spacingAndGlyphs">0</text>
<text x="223.30" y="831.9" text-anchor="middle" textLength="10.4" lengthAdjust="spacingAndGlyphs">50</text>
<text x="321.30" y="831.9" text-anchor="middle" textLength="15.6" lengthAdjust="spacingAndGlyphs">100</text>
<text x="419.30" y="831.9" text-anchor="middle" textLength="15.6" lengthAdjust="spacingAndGlyphs">150</text>
<text x="517.30" y="831.9" text-anchor="middle" textLength="15.6" lengthAdjust="spacingAndGlyphs">200</text>
<text x="587.10" y="831.9" text-anchor="middle" textLength="5.2" lengthAdjust="spacingAndGlyphs">0</text>
<text x="602.35" y="831.9" text-anchor="middle" textLength="5.2" lengthAdjust="spacingAndGlyphs">5</text>
<text x="617.60" y="831.9" text-anchor="middle" textLength="10.4" lengthAdjust="spacingAndGlyphs">10</text>
<text x="632.85" y="831.9" text-anchor="middle" textLength="10.4" lengthAdjust="spacingAndGlyphs">15</text>
</g>
<text transform="translate(53.8,666) rotate(-90)" text-anchor="middle" font-family="Liberation Sans, sans-serif" font-weight="bold" font-size="12">MAD2L1</text>
<text x="356.6" y="847.4" text-anchor="middle" font-family="Liberation Sans, sans-serif" font-weight="bold" font-size="12.1">TBX3</text>
</svg>
</body></html>
